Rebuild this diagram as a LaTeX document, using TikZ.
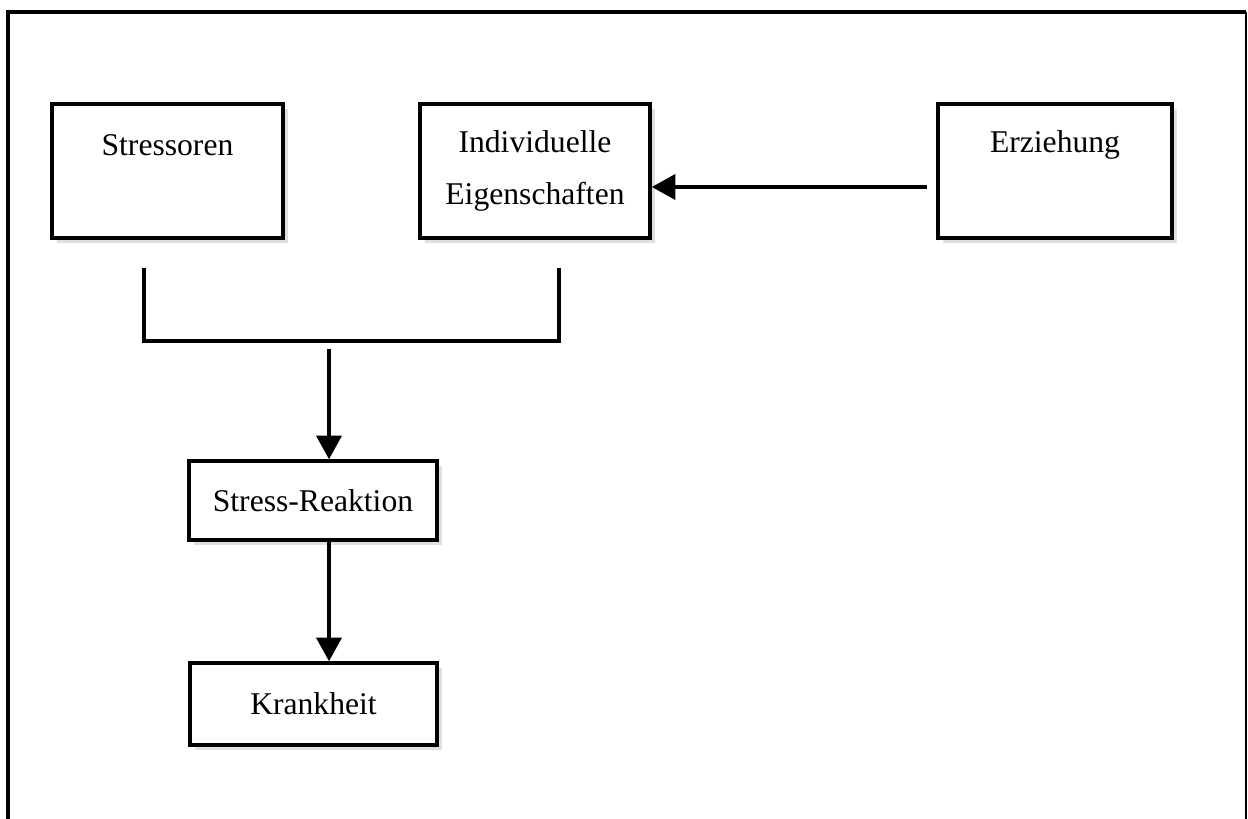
\documentclass[tikz,border=0pt]{standalone}
\usepackage{fontspec}
\setmainfont{Liberation Serif}
\usepackage{tikz}
\usetikzlibrary{shapes,arrows.meta,shadows}
\tikzstyle{block} = [rectangle, sharp corners, draw, line width=2pt,
                     fill=white, text centered,
                     drop shadow={opacity=0.25, shadow xshift=3pt, shadow yshift=-3pt}]
\tikzstyle{txt} = [font=\fontsize{18}{30}\selectfont, align=center]
\tikzstyle{line} = [line width=2pt]
\tikzstyle{arrow} = [line width=2pt, -{Triangle[width=0.5cm,length=0.47cm]}]
\begin{document}
\begin{tikzpicture}
\useasboundingbox (0,0) rectangle (24.96,16.38);
%Frame
\draw[line width=2.2pt] (0.16,0) -- (0.16,16.14) -- (24.92,16.14);
\draw[line width=1pt] (24.92,16.14) -- (24.92,0);

%Top row
\node[block, minimum width=4.62cm, minimum height=2.68cm] at (3.35,12.96) (stress){};
\node[txt] at (3.35,13.48) (stresstext){Stressoren};
\node[block, txt, minimum width=4.6cm, minimum height=2.68cm] at (10.7,12.96) (indiv){Individuelle\\Eigenschaften};
\node[block, minimum width=4.68cm, minimum height=2.68cm] at (21.1,12.96) (erz){};
\node[txt] at (21.1,13.48) (erztext){Erziehung};

%Bracket
\coordinate (bl) at (2.88,11.02);
\coordinate (br) at (11.18,11.02);
\draw[line] (bl) -- (2.88,9.56) -- (11.18,9.56) -- (br);

%Bottom row
\node[block, txt, minimum width=4.96cm, minimum height=1.58cm] at (6.26,6.37) (reakt){Stress-Reaktion};
\node[block, txt, minimum width=4.94cm, minimum height=1.64cm] at (6.27,2.30) (krank){Krankheit};

%Arrows
\coordinate (estart) at (18.54,12.64);
\draw[arrow] (estart) -- (estart -| indiv.east);
\coordinate (stem) at (6.58,9.40);
\draw[arrow] (stem) -- (stem |- reakt.north);
\draw[arrow] (stem |- reakt.south) -- (stem |- krank.north);
\end{tikzpicture}
\end{document}
